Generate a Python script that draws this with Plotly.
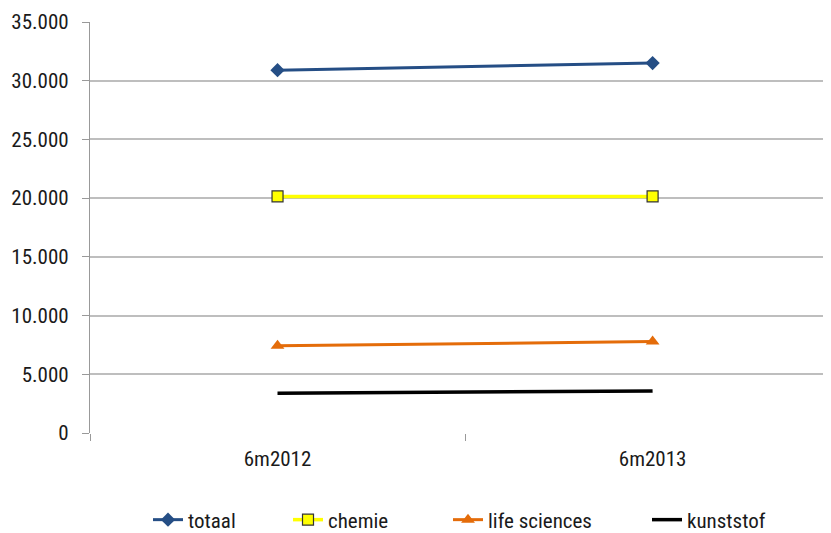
import plotly.graph_objects as go

categories = ["6m2012", "6m2013"]
totaal = [30900, 31500]
chemie = [20150, 20150]
life_sciences = [7430, 7790]
kunststof = [3380, 3580]
y_ticks = [0, 5000, 10000, 15000, 20000, 25000, 30000, 35000]
y_tick_labels = ["0", "5.000", "10.000", "15.000", "20.000", "25.000", "30.000", "35.000"]

FONT = "Roboto Condensed, Liberation Sans Narrow, Arial Narrow, sans-serif"
TXT = "#1a1a1a"

# the page body has an 8px margin, so the figure is sized to fit the 831x533 window
W, H = 823, 525

fig = go.Figure()
fig.add_trace(go.Scatter(x=categories, y=totaal, name="totaal", mode="lines+markers",
                         line=dict(color="#254E85", width=3),
                         marker=dict(symbol="diamond", size=11, color="#254E85"),
                         legend="legend"))
fig.add_trace(go.Scatter(x=categories, y=chemie, name="chemie", mode="lines+markers",
                         line=dict(color="#FFFF00", width=3.5),
                         marker=dict(symbol="square", size=11, color="#FFFF00",
                                     line=dict(color="#333333", width=1.2)),
                         legend="legend2"))
fig.add_trace(go.Scatter(x=categories, y=life_sciences, name="life sciences", mode="lines+markers",
                         line=dict(color="#E46C0A", width=3),
                         marker=dict(symbol="triangle-up", size=12, color="#E46C0A"),
                         legend="legend3"))
fig.add_trace(go.Scatter(x=categories, y=kunststof, name="kunststof", mode="lines",
                         line=dict(color="#000000", width=3.5),
                         legend="legend4"))

leg_common = dict(orientation="h", yanchor="middle", y=1 - 512 / H, yref="container",
                  xref="container", xanchor="left",
                  font=dict(family=FONT, size=21, color=TXT),
                  bgcolor="rgba(0,0,0,0)", itemwidth=30, tracegroupgap=0)

def L(xpx):
    return dict(leg_common, x=xpx / W)

fig.update_layout(
    width=W, height=H,
    margin=dict(l=82, r=1, t=14, b=100, autoexpand=False),
    paper_bgcolor="white", plot_bgcolor="white",
    font=dict(family=FONT, size=21, color=TXT),
    showlegend=True,
    legend=L(140), legend2=L(280), legend3=L(440), legend4=L(639),
    xaxis=dict(type="category", range=[-0.5, 1.473], tickson="boundaries",
               ticks="outside", ticklen=7, tickcolor="#999999", tickwidth=1.3,
               showgrid=False, showline=False, zeroline=False, automargin=False,
               ticklabelstandoff=11,
               tickfont=dict(family=FONT, size=21, color=TXT)),
    yaxis=dict(range=[0, 35000], tickvals=y_ticks, ticktext=y_tick_labels,
               ticks="outside", ticklen=7, tickcolor="#999999", tickwidth=1.3,
               showgrid=True, gridcolor="#BEBEBE", gridwidth=1.5,
               showline=True, linecolor="#999999", linewidth=1.3,
               zeroline=False, automargin=False, ticklabelstandoff=9,
               tickfont=dict(family=FONT, size=21, color=TXT)),
)

fig.write_html("out.html")
